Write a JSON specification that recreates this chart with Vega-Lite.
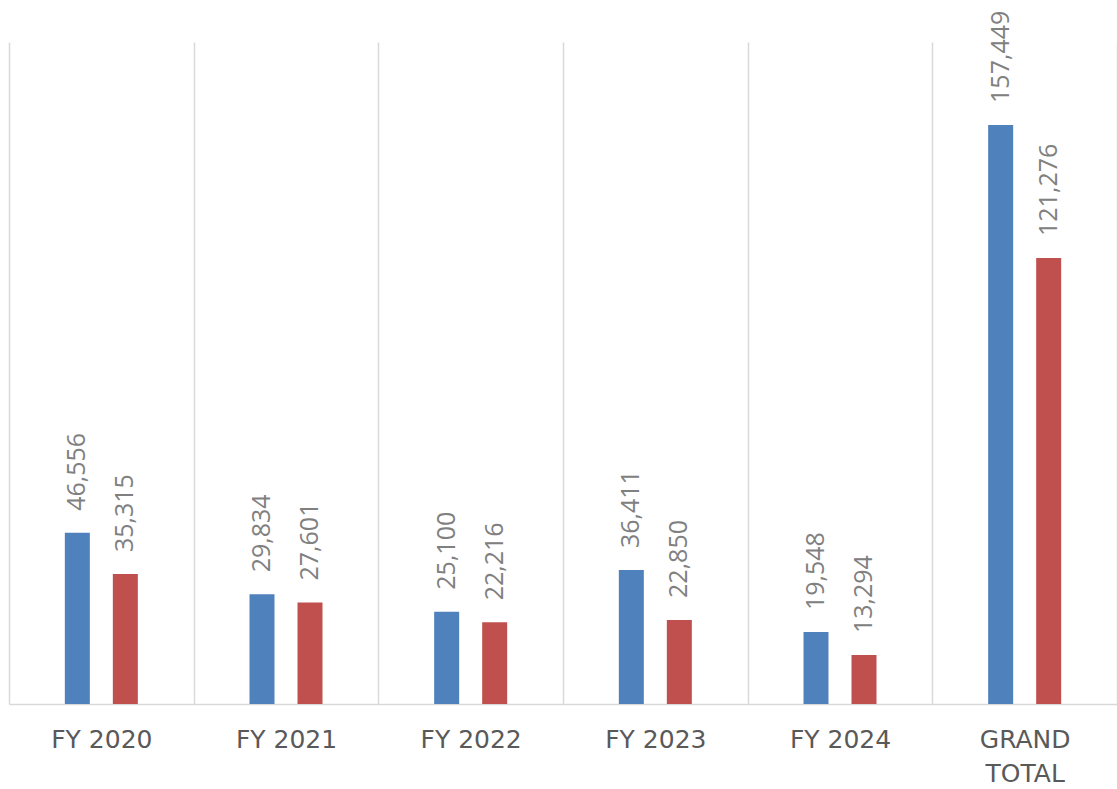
{
  "$schema": "https://vega.github.io/schema/vega-lite/v6.json",
  "width": 1108,
  "height": 662,
  "autosize": {"type": "none"},
  "padding": {"left": 9, "top": 42, "right": 0, "bottom": 85},
  "background": "white",
  "config": {"view": {"stroke": null}},
  "data": {
    "values": [
      {"period": "FY 2020", "series": "Series1", "value": 46556},
      {"period": "FY 2020", "series": "Series2", "value": 35315},
      {"period": "FY 2021", "series": "Series1", "value": 29834},
      {"period": "FY 2021", "series": "Series2", "value": 27601},
      {"period": "FY 2022", "series": "Series1", "value": 25100},
      {"period": "FY 2022", "series": "Series2", "value": 22216},
      {"period": "FY 2023", "series": "Series1", "value": 36411},
      {"period": "FY 2023", "series": "Series2", "value": 22850},
      {"period": "FY 2024", "series": "Series1", "value": 19548},
      {"period": "FY 2024", "series": "Series2", "value": 13294},
      {"period": "GRAND TOTAL", "series": "Series1", "value": 157449},
      {"period": "GRAND TOTAL", "series": "Series2", "value": 121276}
    ]
  },
  "encoding": {
    "x": {
      "field": "period",
      "type": "nominal",
      "sort": null,
      "scale": {"paddingInner": 0, "paddingOuter": 0},
      "axis": {
        "title": null,
        "labelAngle": 0,
        "ticks": false,
        "tickBand": "extent",
        "grid": true,
        "gridColor": "#d9d9d9",
        "gridWidth": 1.5,
        "domainColor": "#d9d9d9",
        "domainWidth": 1.5,
        "labelFont": "DejaVu Sans",
        "labelFontSize": 25,
        "labelColor": "#595959",
        "labelPadding": 23,
        "labelLineHeight": 34,
        "labelExpr": "datum.value == 'GRAND TOTAL' ? ['GRAND', 'TOTAL'] : datum.value"
      }
    },
    "xOffset": {
      "field": "series",
      "type": "nominal",
      "scale": {"paddingInner": 0.153, "paddingOuter": 1}
    },
    "y": {
      "field": "value",
      "type": "quantitative",
      "scale": {"domain": [0, 180000]},
      "axis": null
    }
  },
  "layer": [
    {
      "mark": {"type": "bar", "width": 25},
      "encoding": {
        "color": {
          "field": "series",
          "type": "nominal",
          "scale": {"range": ["#4F81BD", "#C0504D"]},
          "legend": null
        }
      }
    },
    {
      "mark": {
        "type": "text",
        "angle": 270,
        "align": "left",
        "baseline": "middle",
        "dx": 22,
        "font": "Open Sans",
        "fontSize": 25,
        "color": "#808080"
      },
      "encoding": {
        "text": {"field": "value", "type": "quantitative", "format": ","}
      }
    }
  ]
}
